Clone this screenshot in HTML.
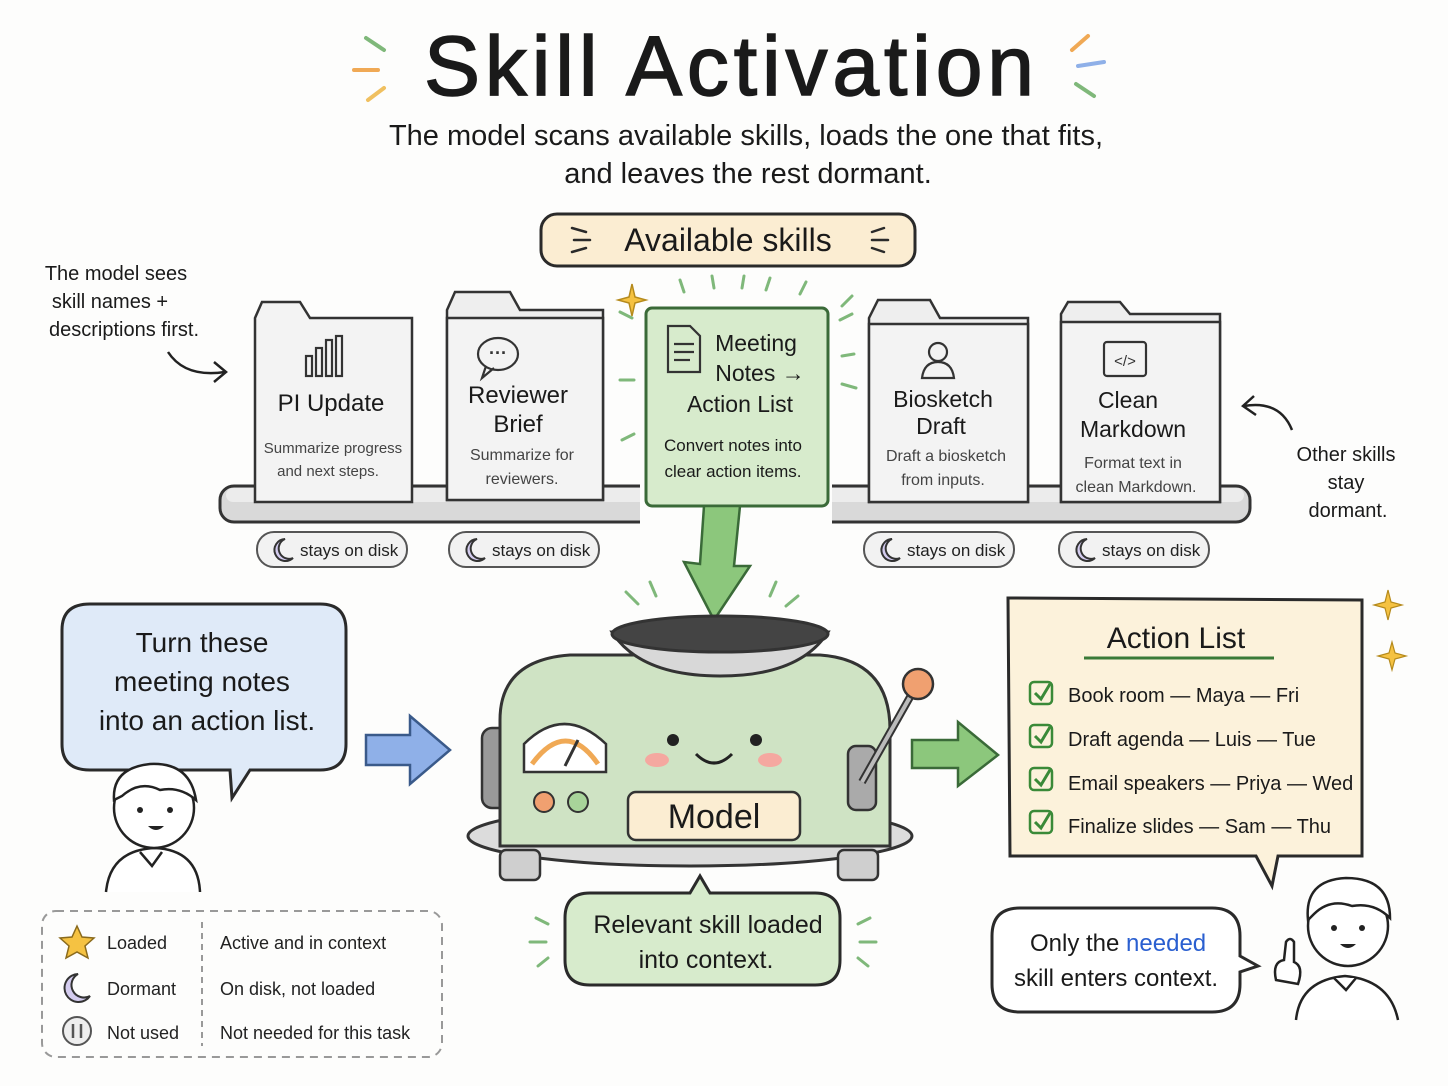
<!DOCTYPE html>
<html><head><meta charset="utf-8"><style>
html,body{margin:0;padding:0;background:#fdfdfc;}
svg{display:block;font-family:"Liberation Sans",sans-serif;}
</style></head><body>
<svg width="1448" height="1086" viewBox="0 0 1448 1086" xmlns="http://www.w3.org/2000/svg">
<rect width="1448" height="1086" fill="#fdfdfc"/>
<!-- title -->
<text x="424" y="95" font-size="84" fill="#1a1a1a" stroke="#1a1a1a" stroke-width="1.5" textLength="610" lengthAdjust="spacing">Skill Activation</text>
<g stroke-width="4" stroke-linecap="round">
<line x1="366" y1="38" x2="384" y2="50" stroke="#7fb87a"/><line x1="354" y1="70" x2="378" y2="70" stroke="#f0a955"/><line x1="368" y1="100" x2="384" y2="88" stroke="#f0c060"/>
<line x1="1072" y1="50" x2="1088" y2="36" stroke="#f0a955"/><line x1="1078" y1="66" x2="1104" y2="62" stroke="#8fb0e8"/><line x1="1076" y1="84" x2="1094" y2="96" stroke="#7fb87a"/>
</g>
<text x="746" y="145" text-anchor="middle" font-size="29" fill="#1a1a1a">The model scans available skills, loads the one that fits,</text>
<text x="748" y="183" text-anchor="middle" font-size="29" fill="#1a1a1a">and leaves the rest dormant.</text>
<!-- available skills pill -->
<rect x="541" y="214" width="374" height="52" rx="16" fill="#fbedd2" stroke="#2a2a2a" stroke-width="3"/>
<text x="728" y="251" text-anchor="middle" font-size="32" fill="#1a1a1a">Available skills</text>
<g stroke="#2a2a2a" stroke-width="2.5" stroke-linecap="round"><line x1="572" y1="228" x2="586" y2="232"/><line x1="574" y1="240" x2="590" y2="240"/><line x1="572" y1="252" x2="586" y2="248"/><line x1="884" y1="228" x2="872" y2="232"/><line x1="888" y1="240" x2="872" y2="240"/><line x1="884" y1="252" x2="872" y2="248"/></g>
<!-- left note -->
<g font-size="20" fill="#1a1a1a" text-anchor="middle"><text x="116" y="280">The model sees</text><text x="110" y="308">skill names +</text><text x="124" y="336">descriptions first.</text>
<text x="1346" y="461">Other skills</text><text x="1346" y="489">stay</text><text x="1348" y="517">dormant.</text></g>
<path d="M168 352 Q185 378 225 372" fill="none" stroke="#222" stroke-width="2.5"/><path d="M214 362 L226 372 L214 382" fill="none" stroke="#222" stroke-width="2.5"/>
<path d="M1292 430 Q1280 400 1244 406" fill="none" stroke="#222" stroke-width="2.5"/><path d="M1254 396 L1243 406 L1256 415" fill="none" stroke="#222" stroke-width="2.5"/>
<!-- shelf -->
<rect x="220" y="486" width="1030" height="36" rx="14" fill="#d9d9d9" stroke="#333" stroke-width="3"/>
<rect x="226" y="488" width="1018" height="14" rx="7" fill="#ececec"/>
<!-- cards -->
<g stroke="#333" stroke-width="2.5">
<path d="M255 318 L255 502 L412 502 L412 318 L310 318 L300 302 L262 302 Z" fill="#f3f3f3"/>
<path d="M447 310 L447 500 L603 500 L603 310 L520 310 L510 292 L455 292 Z" fill="#eeeeee"/><rect x="447" y="318" width="156" height="182" fill="#f3f3f3"/>
<path d="M869 318 L869 502 L1028 502 L1028 318 L940 318 L930 300 L878 300 Z" fill="#eeeeee"/><rect x="869" y="324" width="159" height="178" fill="#f3f3f3"/>
<path d="M1061 314 L1061 502 L1220 502 L1220 314 L1130 314 L1120 302 L1068 302 Z" fill="#eeeeee"/><rect x="1061" y="322" width="159" height="180" fill="#f3f3f3"/>
</g>
<rect x="640" y="300" width="192" height="224" fill="#fdfdfc"/>
<rect x="646" y="308" width="182" height="198" rx="6" fill="#d7ebcc" stroke="#3a6a38" stroke-width="3"/>
<!-- card icons -->
<g fill="none" stroke="#333" stroke-width="2.2">
<rect x="306" y="356" width="6" height="20"/><rect x="316" y="348" width="6" height="28"/><rect x="326" y="340" width="6" height="36"/><rect x="336" y="336" width="6" height="40"/>
<ellipse cx="498" cy="354" rx="20" ry="16"/><path d="M486 366 L482 378 L494 368"/>
<circle cx="938" cy="352" r="9"/><path d="M922 378 Q924 362 938 362 Q952 362 954 378 Z"/>
<rect x="1104" y="342" width="42" height="34" rx="3"/>
<path d="M668 326 L690 326 L700 336 L700 372 L668 372 Z"/><line x1="674" y1="344" x2="694" y2="344"/><line x1="674" y1="352" x2="694" y2="352"/><line x1="674" y1="360" x2="690" y2="360"/>
</g>
<text x="498" y="359" text-anchor="middle" font-size="18" font-weight="bold" fill="#333">···</text>
<text x="1125" y="366" text-anchor="middle" font-size="15" fill="#333">&lt;/&gt;</text>
<g text-anchor="middle" fill="#1a1a1a">
<text x="331" y="411" font-size="24">PI Update</text>
<text x="333" y="453" font-size="15" fill="#444">Summarize progress</text><text x="328" y="476" font-size="15" fill="#444">and next steps.</text>
<text x="518" y="403" font-size="24">Reviewer</text><text x="518" y="432" font-size="24">Brief</text>
<text x="522" y="460" font-size="16" fill="#444">Summarize for</text><text x="522" y="484" font-size="16" fill="#444">reviewers.</text>
<text x="756" y="351" font-size="23">Meeting</text><text x="760" y="381" font-size="23">Notes →</text><text x="740" y="412" font-size="23">Action List</text>
<text x="733" y="451" font-size="17">Convert notes into</text><text x="733" y="477" font-size="17">clear action items.</text>
<text x="943" y="407" font-size="23">Biosketch</text><text x="941" y="434" font-size="23">Draft</text>
<text x="946" y="461" font-size="16" fill="#444">Draft a biosketch</text><text x="943" y="485" font-size="16" fill="#444">from inputs.</text>
<text x="1128" y="408" font-size="23">Clean</text><text x="1133" y="437" font-size="23">Markdown</text>
<text x="1133" y="468" font-size="16" fill="#444">Format text in</text><text x="1136" y="492" font-size="16" fill="#444">clean Markdown.</text>
</g>
<!-- rays around green card -->
<g stroke="#7fb87a" stroke-width="3" stroke-linecap="round">
<line x1="680" y1="280" x2="684" y2="292"/><line x1="712" y1="276" x2="714" y2="288"/><line x1="744" y1="276" x2="742" y2="288"/><line x1="770" y1="278" x2="766" y2="290"/><line x1="806" y1="282" x2="800" y2="294"/>
<line x1="620" y1="312" x2="632" y2="318"/><line x1="620" y1="380" x2="634" y2="380"/><line x1="622" y1="440" x2="634" y2="434"/>
<line x1="840" y1="320" x2="852" y2="314"/><line x1="842" y1="356" x2="854" y2="354"/><line x1="842" y1="384" x2="856" y2="388"/><line x1="852" y1="296" x2="842" y2="306"/>
</g>
<path d="M632 284 L635 297 L646 300 L635 303 L632 316 L629 303 L618 300 L629 297 Z" fill="#f5c242" stroke="#b58a1c" stroke-width="1.5"/>
<!-- stays on disk pills -->
<g font-size="17" fill="#222">
<g transform="translate(257,532)"><rect width="150" height="35" rx="17" fill="#f2f2f2" stroke="#555" stroke-width="2"/><path d="M28 7 A11 11 0 1 0 36 26 A9 9 0 0 1 28 7 Z" fill="#d4ccef" stroke="#333" stroke-width="2"/><text x="43" y="24">stays on disk</text></g>
<g transform="translate(449,532)"><rect width="150" height="35" rx="17" fill="#f2f2f2" stroke="#555" stroke-width="2"/><path d="M28 7 A11 11 0 1 0 36 26 A9 9 0 0 1 28 7 Z" fill="#d4ccef" stroke="#333" stroke-width="2"/><text x="43" y="24">stays on disk</text></g>
<g transform="translate(864,532)"><rect width="150" height="35" rx="17" fill="#f2f2f2" stroke="#555" stroke-width="2"/><path d="M28 7 A11 11 0 1 0 36 26 A9 9 0 0 1 28 7 Z" fill="#d4ccef" stroke="#333" stroke-width="2"/><text x="43" y="24">stays on disk</text></g>
<g transform="translate(1059,532)"><rect width="150" height="35" rx="17" fill="#f2f2f2" stroke="#555" stroke-width="2"/><path d="M28 7 A11 11 0 1 0 36 26 A9 9 0 0 1 28 7 Z" fill="#d4ccef" stroke="#333" stroke-width="2"/><text x="43" y="24">stays on disk</text></g>
</g>
<!-- green down arrow -->
<path d="M704 506 L740 506 L734 566 L750 566 L714 620 L684 562 L700 564 Z" fill="#8cc77c" stroke="#3a6a38" stroke-width="2.5"/>
<g stroke="#7fb87a" stroke-width="3" stroke-linecap="round"><line x1="626" y1="592" x2="638" y2="604"/><line x1="650" y1="582" x2="656" y2="596"/><line x1="770" y1="596" x2="776" y2="582"/><line x1="786" y1="606" x2="798" y2="596"/></g>
<!-- blue speech bubble -->
<path d="M90 604 L320 604 Q346 604 346 630 L346 744 Q346 770 320 770 L250 770 L232 798 L230 770 L90 770 Q62 770 62 744 L62 630 Q62 604 90 604 Z" fill="#dfeaf8" stroke="#2a2a2a" stroke-width="3"/>
<g font-size="28" text-anchor="middle" fill="#1a1a1a"><text x="202" y="652">Turn these</text><text x="202" y="691">meeting notes</text><text x="207" y="730">into an action list.</text></g>
<!-- blue arrow -->
<path d="M366 735 L410 735 L410 716 L450 750 L410 784 L410 765 L366 765 Z" fill="#8fb0e8" stroke="#3a5a8a" stroke-width="2.5"/>
<!-- left person -->
<g stroke="#222" stroke-width="2.5" fill="#fff">
<path d="M106 892 Q110 850 155 848 Q198 850 200 892" />
<circle cx="154" cy="808" r="40"/>
<path d="M114 800 Q112 768 150 764 Q190 762 196 800 Q180 786 160 790 Q140 780 122 796 Z" fill="#fff"/>
<path d="M140 852 L152 866 L162 852"/>
</g>
<circle cx="140" cy="810" r="3" fill="#222"/><circle cx="170" cy="810" r="3" fill="#222"/><path d="M148 826 Q156 834 164 826" fill="#222"/>
<!-- machine -->
<ellipse cx="690" cy="836" rx="222" ry="30" fill="#dcdcdc" stroke="#333" stroke-width="3"/>
<rect x="500" y="850" width="40" height="30" rx="6" fill="#cfcfcf" stroke="#333" stroke-width="2.5"/><rect x="838" y="850" width="40" height="30" rx="6" fill="#cfcfcf" stroke="#333" stroke-width="2.5"/>
<rect x="482" y="728" width="28" height="80" rx="10" fill="#999" stroke="#333" stroke-width="2.5"/>
<path d="M500 846 L500 720 Q500 660 570 655 L820 655 Q890 660 890 730 L890 846 Z" fill="#cfe3c4" stroke="#333" stroke-width="3"/>
<path d="M612 632 Q640 676 720 676 Q800 676 828 632 Z" fill="#d8d8d8" stroke="#333" stroke-width="3"/>
<ellipse cx="720" cy="634" rx="108" ry="18" fill="#444" stroke="#333" stroke-width="3"/>
<path d="M524 772 L524 744 Q564 704 606 744 L606 772 Z" fill="#fff" stroke="#333" stroke-width="2.5"/>
<path d="M532 764 Q566 718 598 764" fill="none" stroke="#f0a955" stroke-width="5"/>
<line x1="565" y1="766" x2="578" y2="740" stroke="#333" stroke-width="3"/>
<circle cx="544" cy="802" r="10" fill="#f0a070" stroke="#333" stroke-width="2"/><circle cx="578" cy="802" r="10" fill="#a8d49a" stroke="#333" stroke-width="2"/>
<circle cx="673" cy="740" r="6" fill="#222"/><circle cx="756" cy="740" r="6" fill="#222"/>
<path d="M696 754 Q714 772 732 754" fill="none" stroke="#222" stroke-width="3"/>
<ellipse cx="657" cy="760" rx="12" ry="7" fill="#f5a8a0"/><ellipse cx="770" cy="760" rx="12" ry="7" fill="#f5a8a0"/>
<rect x="628" y="792" width="172" height="48" rx="8" fill="#fbedd2" stroke="#333" stroke-width="2.5"/>
<text x="714" y="828" text-anchor="middle" font-size="34" fill="#1a1a1a">Model</text>
<rect x="848" y="746" width="28" height="64" rx="8" fill="#aaa" stroke="#333" stroke-width="2.5"/>
<line x1="862" y1="782" x2="914" y2="690" stroke="#333" stroke-width="8"/><line x1="862" y1="782" x2="914" y2="690" stroke="#bbb" stroke-width="4"/>
<circle cx="918" cy="684" r="15" fill="#f0a070" stroke="#333" stroke-width="2.5"/>
<!-- green right arrow -->
<path d="M912 740 L958 740 L958 722 L998 755 L958 786 L958 768 L912 768 Z" fill="#8cc77c" stroke="#3a6a38" stroke-width="2.5"/>
<!-- action list -->
<path d="M1008 598 L1362 600 L1362 856 L1278 856 L1272 886 L1256 856 L1010 856 Z" fill="#fcf2db" stroke="#2a2a2a" stroke-width="3"/>
<text x="1176" y="648" text-anchor="middle" font-size="30" fill="#1a1a1a">Action List</text>
<line x1="1084" y1="658" x2="1274" y2="658" stroke="#3a7a38" stroke-width="3"/>
<g font-size="20" fill="#1a1a1a">
<g><rect x="1030" y="682" width="22" height="22" rx="4" fill="none" stroke="#3a8a38" stroke-width="2.5"/><path d="M1035 693 L1041 699 L1050 684" fill="none" stroke="#3a8a38" stroke-width="3"/><text x="1068" y="702">Book room — Maya — Fri</text></g>
<g><rect x="1030" y="725" width="22" height="22" rx="4" fill="none" stroke="#3a8a38" stroke-width="2.5"/><path d="M1035 736 L1041 742 L1050 727" fill="none" stroke="#3a8a38" stroke-width="3"/><text x="1068" y="746">Draft agenda — Luis — Tue</text></g>
<g><rect x="1030" y="768" width="22" height="22" rx="4" fill="none" stroke="#3a8a38" stroke-width="2.5"/><path d="M1035 779 L1041 785 L1050 770" fill="none" stroke="#3a8a38" stroke-width="3"/><text x="1068" y="790">Email speakers — Priya — Wed</text></g>
<g><rect x="1030" y="811" width="22" height="22" rx="4" fill="none" stroke="#3a8a38" stroke-width="2.5"/><path d="M1035 822 L1041 828 L1050 813" fill="none" stroke="#3a8a38" stroke-width="3"/><text x="1068" y="833">Finalize slides — Sam — Thu</text></g>
</g>
<path d="M1388 590 L1391 602 L1402 605 L1391 608 L1388 620 L1385 608 L1374 605 L1385 602 Z" fill="#f5c242" stroke="#b58a1c" stroke-width="1.2"/>
<path d="M1392 642 L1395 653 L1406 656 L1395 659 L1392 670 L1389 659 L1378 656 L1389 653 Z" fill="#f5c242" stroke="#b58a1c" stroke-width="1.2"/>
<!-- relevant skill bubble -->
<path d="M590 893 L690 893 L700 876 L710 893 L815 893 Q840 893 840 918 L840 960 Q840 985 815 985 L590 985 Q565 985 565 960 L565 918 Q565 893 590 893 Z" fill="#d7ebcc" stroke="#2a2a2a" stroke-width="3"/>
<g font-size="25" text-anchor="middle" fill="#1a1a1a"><text x="708" y="933">Relevant skill loaded</text><text x="706" y="968">into context.</text></g>
<g stroke="#7fb87a" stroke-width="3" stroke-linecap="round"><line x1="536" y1="918" x2="548" y2="924"/><line x1="530" y1="942" x2="546" y2="942"/><line x1="538" y1="966" x2="548" y2="958"/><line x1="858" y1="924" x2="870" y2="918"/><line x1="860" y1="942" x2="876" y2="942"/><line x1="858" y1="958" x2="868" y2="966"/></g>
<!-- legend -->
<rect x="42" y="911" width="400" height="146" rx="14" fill="#fdfdfc" stroke="#999" stroke-width="2" stroke-dasharray="8 6"/>
<line x1="202" y1="922" x2="202" y2="1046" stroke="#999" stroke-width="2" stroke-dasharray="6 5"/>
<path d="M77 926 L82 937 L94 938 L85 946 L88 958 L77 952 L66 958 L69 946 L60 938 L72 937 Z" fill="#f5c242" stroke="#8a6a1c" stroke-width="1.5"/>
<path d="M78 974 A14 14 0 1 0 90 996 A11 11 0 0 1 78 974 Z" fill="#d4ccef" stroke="#333" stroke-width="2"/>
<circle cx="77" cy="1031" r="14" fill="#eee" stroke="#555" stroke-width="2"/><line x1="73" y1="1024" x2="73" y2="1038" stroke="#555" stroke-width="2.5"/><line x1="81" y1="1024" x2="81" y2="1038" stroke="#555" stroke-width="2.5"/>
<g font-size="18" fill="#222"><text x="107" y="949">Loaded</text><text x="107" y="995">Dormant</text><text x="107" y="1039">Not used</text>
<text x="220" y="949">Active and in context</text><text x="220" y="995">On disk, not loaded</text><text x="220" y="1039">Not needed for this task</text></g>
<!-- only the needed bubble -->
<path d="M1020 908 L1212 908 Q1240 908 1240 936 L1240 956 L1258 966 L1240 972 L1240 984 Q1240 1012 1212 1012 L1020 1012 Q992 1012 992 984 L992 936 Q992 908 1020 908 Z" fill="#fff" stroke="#2a2a2a" stroke-width="3"/>
<text x="1030" y="951" font-size="24" fill="#1a1a1a">Only the <tspan fill="#2a5fd0">needed</tspan></text>
<text x="1116" y="986" text-anchor="middle" font-size="24" fill="#1a1a1a">skill enters context.</text>
<!-- right person -->
<g stroke="#222" stroke-width="2.5" fill="#fff">
<path d="M1296 1020 Q1300 980 1345 976 Q1390 980 1398 1020"/>
<circle cx="1348" cy="926" r="40"/>
<path d="M1308 920 Q1304 880 1346 878 Q1390 878 1390 918 Q1374 902 1352 906 Q1330 898 1314 914 Z"/>
<path d="M1334 978 L1346 990 L1356 978"/>
<path d="M1276 980 Q1272 962 1284 960 L1286 942 Q1290 936 1294 942 L1294 962 Q1304 966 1298 984 Z"/>
</g>
<circle cx="1334" cy="928" r="3" fill="#222"/><circle cx="1362" cy="928" r="3" fill="#222"/><path d="M1340 944 Q1348 952 1356 944" fill="#222"/>
</svg>
</body></html>
